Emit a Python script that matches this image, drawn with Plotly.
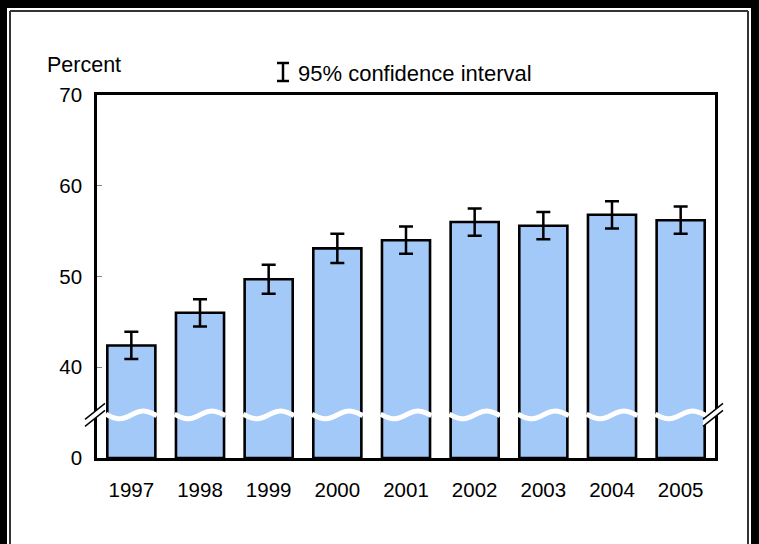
import numpy as np
import plotly.graph_objects as go

# Data
years = ["1997", "1998", "1999", "2000", "2001", "2002", "2003", "2004", "2005"]
percent = [42.4, 46.0, 49.7, 53.1, 54.0, 56.0, 55.6, 56.8, 56.2]
ci_half = [1.5, 1.5, 1.6, 1.6, 1.5, 1.5, 1.5, 1.5, 1.5]
tick_labels = ["0", "40", "50", "60", "70"]
tick_actual = [0, 40, 50, 60, 70]

# Broken axis: values from 40 up are drawn shifted so that 0 sits one step below 40
AXIS_SHIFT = 30
BREAK_LEVEL = 4.75  # position of the break, in shifted units

W, H = 759, 544
ML, MR, MT, MB = 97, 44, 95, 86
PW, PH = W - ML - MR, H - MT - MB

FONT = "Liberation Sans, Arial, sans-serif"
BAR_COLOR = "#a3c9f8"


def px(x):
    return (x - ML) / PW


def py(y):
    return (H - MB - y) / PH


y_shifted = [v - AXIS_SHIFT for v in percent]
tickvals = [0] + [t - AXIS_SHIFT for t in tick_actual[1:]]

fig = go.Figure()
fig.add_trace(go.Bar(
    x=list(range(len(years))),
    y=y_shifted,
    width=0.7,
    marker=dict(color=BAR_COLOR, line=dict(color="black", width=2.6)),
    error_y=dict(type="data", array=ci_half, color="black", thickness=2.5, width=7),
    showlegend=False,
    hoverinfo="skip",
))

# White wavy break across each bar
bar_w = 0.7
for i in range(len(years)):
    t = np.linspace(-0.03, 1.03, 60)
    xs = i - bar_w / 2 + t * bar_w
    ys = BREAK_LEVEL - 0.42 * np.sin(2 * np.pi * t)
    fig.add_trace(go.Scatter(
        x=xs, y=ys, mode="lines",
        line=dict(color="white", width=5, shape="spline"),
        showlegend=False, hoverinfo="skip",
    ))

shapes = []
# Axis break marks ("//") on both vertical axes
brk_py = H - MB - BREAK_LEVEL * PH / 40
for cx in (ML - 2, ML + PW - 2):
    dx, dy = 10, 8
    gap = 3.5
    shapes.append(dict(
        type="path", xref="paper", yref="paper",
        path=(f"M {px(cx - dx)},{py(brk_py + dy + gap)} L {px(cx + dx)},{py(brk_py - dy + gap)} "
              f"L {px(cx + dx)},{py(brk_py - dy - gap)} L {px(cx - dx)},{py(brk_py + dy - gap)} Z"),
        fillcolor="white", line=dict(width=0), layer="above",
    ))
    for s in (gap, -gap):
        shapes.append(dict(
            type="line", xref="paper", yref="paper",
            x0=px(cx - dx), y0=py(brk_py + dy + s), x1=px(cx + dx), y1=py(brk_py - dy + s),
            line=dict(color="black", width=1.5), layer="above",
        ))

# Legend glyph for the confidence interval
gx, gy0, gy1 = 283, 63, 81
shapes += [
    dict(type="line", xref="paper", yref="paper", x0=px(gx), x1=px(gx), y0=py(gy0), y1=py(gy1),
         line=dict(color="black", width=2.5)),
    dict(type="line", xref="paper", yref="paper", x0=px(gx - 6), x1=px(gx + 6), y0=py(gy0), y1=py(gy0),
         line=dict(color="black", width=2.5)),
    dict(type="line", xref="paper", yref="paper", x0=px(gx - 6), x1=px(gx + 6), y0=py(gy1), y1=py(gy1),
         line=dict(color="black", width=2.5)),
]

# Outer frame
frame_color = "black"
shapes += [
    dict(type="rect", xref="paper", yref="paper", x0=px(0), x1=px(7), y0=py(0), y1=py(H),
         fillcolor=frame_color, line=dict(width=0)),
    dict(type="rect", xref="paper", yref="paper", x0=px(0), x1=px(W), y0=py(0), y1=py(8),
         fillcolor=frame_color, line=dict(width=0)),
    dict(type="rect", xref="paper", yref="paper", x0=px(751), x1=px(W), y0=py(0), y1=py(H),
         fillcolor=frame_color, line=dict(width=0)),
    dict(type="line", xref="paper", yref="paper", x0=px(10), x1=px(10), y0=py(11), y1=py(H),
         line=dict(color="#333333", width=2)),
    dict(type="line", xref="paper", yref="paper", x0=px(10), x1=px(748), y0=py(11), y1=py(11),
         line=dict(color="#333333", width=2)),
    dict(type="line", xref="paper", yref="paper", x0=px(748), x1=px(748), y0=py(11), y1=py(H),
         line=dict(color="#333333", width=2)),
]

annotations = [
    dict(text="Percent", xref="paper", yref="paper", x=px(45), y=py(65),
         xanchor="left", yanchor="middle", showarrow=False,
         font=dict(family=FONT, size=21.5, color="black")),
    dict(text="95% confidence interval", xref="paper", yref="paper", x=px(296), y=py(73),
         xanchor="left", yanchor="middle", showarrow=False,
         font=dict(family=FONT, size=22, color="black")),
]

fig.update_layout(
    width=W, height=H,
    margin=dict(l=ML, r=MR, t=MT, b=MB),
    paper_bgcolor="white", plot_bgcolor="white",
    font=dict(family=FONT, size=20.5, color="black"),
    bargap=0.3,
    shapes=shapes,
    annotations=annotations,
    xaxis=dict(
        range=[-0.5, len(years) - 0.5],
        tickvals=list(range(len(years))), ticktext=years,
        showline=True, linecolor="black", linewidth=2.5, mirror=True,
        showgrid=False, zeroline=False, ticks="", ticklabelstandoff=12,
        fixedrange=True,
    ),
    yaxis=dict(
        range=[0, 40],
        tickvals=tickvals, ticktext=tick_labels,
        showline=True, linecolor="black", linewidth=2.5, mirror=True,
        showgrid=False, zeroline=False,
        ticks="inside", ticklen=5, tickcolor="#888888", tickwidth=1,
        ticklabelstandoff=8,
        fixedrange=True,
    ),
)

fig.write_html("out.html")
